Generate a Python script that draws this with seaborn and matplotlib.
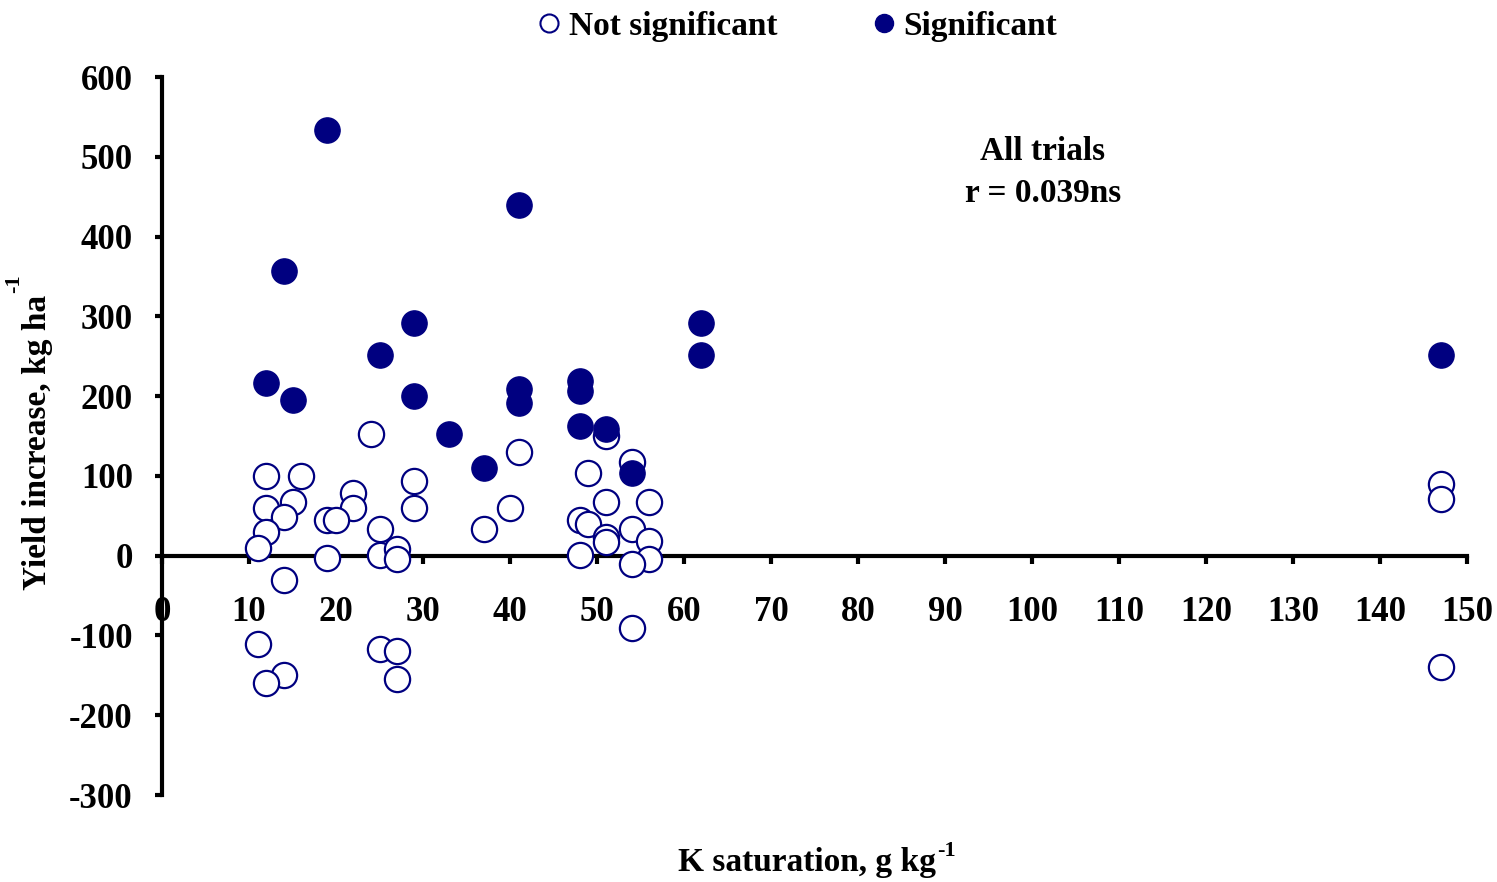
import matplotlib
matplotlib.use("Agg")
import matplotlib.pyplot as plt
import seaborn as sns
import pandas as pd
from matplotlib.lines import Line2D

# Not significant trials (open circles)
ns_x = [12, 16, 24, 12, 15, 14, 12, 11, 22, 22, 19, 20, 19, 25, 25, 27, 27, 29, 29,
        14, 11, 14, 12, 25, 27, 27,
        41, 40, 37, 49, 51, 48, 49, 51, 51, 48, 54, 56, 54, 56, 56, 54, 54, 51,
        147, 147, 147]
ns_y = [100, 100, 152, 60, 67, 49, 30, 9, 78, 60, 45, 45, -3, 34, 1, 8, -4, 93, 60,
        -30, -111, -150, -159, -117, -120, -155,
        130, 60, 34, 104, 67, 45, 40, 23, 17, 1, 117, 67, 34, 19, -4, -10, -91, 150,
        90, 71, -139]

# Significant trials (filled circles)
sig_x = [19, 41, 14, 29, 62, 25, 62, 147, 12, 15, 29, 33, 37, 41, 41, 48, 48, 48, 51, 54]
sig_y = [534, 439, 357, 292, 292, 251, 251, 251, 217, 195, 200, 153, 110, 209, 191,
         219, 207, 163, 159, 104]

x_ticks = list(range(0, 151, 10))
y_ticks = list(range(-300, 601, 100))

sns.set_style("white")
plt.rcParams['font.family'] = ['Liberation Serif', 'DejaVu Serif']
plt.rcParams['font.weight'] = 'bold'
plt.rcParams['text.color'] = 'black'
plt.rcParams['xtick.color'] = 'black'
plt.rcParams['ytick.color'] = 'black'

navy = '#000080'
df_ns = pd.DataFrame({'x': ns_x, 'y': ns_y})
df_sig = pd.DataFrame({'x': sig_x, 'y': sig_y})

W, H = 1497, 882
fig = plt.figure(figsize=(W / 100, H / 100), dpi=100)
ax = fig.add_axes([162 / W, (H - 795) / H, (1467 - 162) / W, (795 - 77) / H])

sns.scatterplot(data=df_ns, x='x', y='y', ax=ax, s=330, facecolor='white',
                edgecolor=navy, linewidth=1.6, zorder=3, legend=False)
sns.scatterplot(data=df_sig, x='x', y='y', ax=ax, s=330, color=navy,
                edgecolor=navy, linewidth=1.0, zorder=4, legend=False)

ax.spines['top'].set_visible(False)
ax.spines['right'].set_visible(False)
ax.spines['bottom'].set_position(('data', 0))
for sp in ('left', 'bottom'):
    ax.spines[sp].set_linewidth(3)
    ax.spines[sp].set_color('black')

ax.set_xlim(0, 150)
ax.set_ylim(-300, 600)
ax.set_xticks(x_ticks)
ax.set_yticks(y_ticks)
ax.set_xticklabels([str(t) for t in x_ticks])
ax.set_yticklabels([str(t) for t in y_ticks])
ax.tick_params(axis='x', bottom=True, direction='out', length=6, width=3, pad=23,
               labelsize=25, colors='black')
ax.tick_params(axis='y', left=True, direction='out', length=5, width=3, pad=16,
               labelsize=25, colors='black')
for lab in ax.get_xticklabels() + ax.get_yticklabels():
    lab.set_fontweight('bold')
ax.grid(False)
ax.set_xlabel('')
ax.set_ylabel('')

renderer = fig.canvas.get_renderer()

# X axis label with superscript
xl = fig.text(678 / W, 1 - 862 / H, 'K saturation, g kg', ha='left', va='center',
              fontsize=24, fontweight='bold')
bb = xl.get_window_extent(renderer)
fig.text((bb.x1 + 1) / W, (bb.y1 - 4) / H, '-1', ha='left', va='center',
         fontsize=16, fontweight='bold')

# Y axis label with superscript
yl = fig.text(38 / W, (H - 590) / H, 'Yield increase, kg ha', ha='center', va='bottom',
              rotation=90, fontsize=24, fontweight='bold')
bb = yl.get_window_extent(renderer)
fig.text((bb.x0 - 8) / W, (bb.y1 + 2) / H, '-1', ha='center', va='bottom',
         rotation=90, fontsize=16, fontweight='bold')

fig.text(1043 / W, 1 - 152 / H, 'All trials', ha='center', va='center',
         fontsize=24, fontweight='bold')
fig.text(1043 / W, 1 - 194 / H, 'r = 0.039ns', ha='center', va='center',
         fontsize=24, fontweight='bold')

handles = [
    Line2D([], [], marker='o', linestyle='none', markersize=13, markerfacecolor='white',
           markeredgecolor=navy, markeredgewidth=1.5, label='Not significant'),
    Line2D([], [], marker='o', linestyle='none', markersize=13, markerfacecolor=navy,
           markeredgecolor=navy, label='Significant'),
]
fig.legend(handles=handles, loc='center', bbox_to_anchor=(795 / W, 1 - 26 / H), ncol=2,
           frameon=False, prop={'family': 'Liberation Serif', 'weight': 'bold', 'size': 24},
           handletextpad=0.1, columnspacing=2.67, handlelength=1.0, borderpad=0)

fig.savefig('out.png', dpi=100)
